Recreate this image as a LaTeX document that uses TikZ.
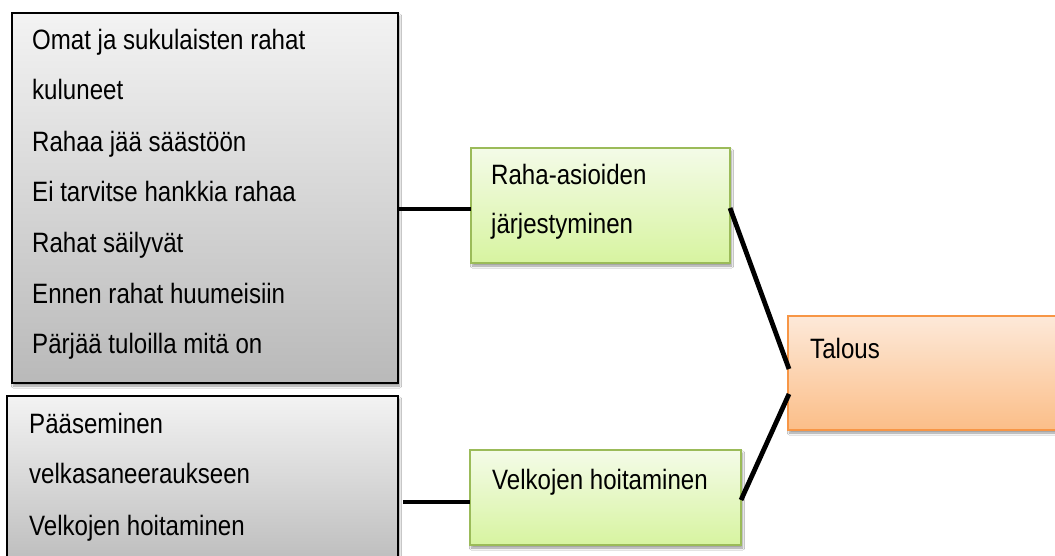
\documentclass[tikz,border=0pt]{standalone}
\usepackage{fontspec}
\setmainfont{Liberation Sans}[FakeStretch=0.86]
\usetikzlibrary{calc,shadows.blur}

\definecolor{grayTop}{HTML}{F3F3F3}
\definecolor{grayBot}{HTML}{B9B9B9}
\definecolor{greenTop}{HTML}{F4FBE8}
\definecolor{greenBot}{HTML}{D7F4A0}
\definecolor{greenEdge}{HTML}{9BBB59}
\definecolor{orangeTop}{HTML}{FDE9D9}
\definecolor{orangeBot}{HTML}{FBBE88}
\definecolor{orangeEdge}{HTML}{F79646}

\tikzset{
  boxbase/.style={rectangle, anchor=north west, inner sep=0pt, outer sep=0pt,
    blur shadow={shadow xshift=1.5pt, shadow yshift=-3pt, shadow blur steps=6, shadow opacity=40}},
  graybox/.style={boxbase, draw=black, line width=1.8pt, top color=grayTop, bottom color=grayBot},
  greenbox/.style={boxbase, draw=greenEdge, line width=1.4pt, top color=greenTop, bottom color=greenBot},
  orangebox/.style={boxbase, draw=orangeEdge, line width=1.6pt, top color=orangeTop, bottom color=orangeBot},
  txt/.style={anchor=base west, inner sep=0pt, font=\fontsize{28}{32}\selectfont, text=black},
  link/.style={draw=black, line width=4.8pt},
}

\begin{document}
\begin{tikzpicture}[x=1pt, y=-1pt]
  \clip (0,0) rectangle (1055,556);
  \fill[white] (0,0) rectangle (1055,556);

  % boxes
  \node[graybox, minimum width=386pt, minimum height=370pt] (b1) at (12,13) {};
  \node[graybox, minimum width=391pt, minimum height=180pt] (b2) at (7,396) {};
  \node[greenbox, minimum width=259pt, minimum height=115pt] (g1) at (471,148) {};
  \node[greenbox, minimum width=271pt, minimum height=95pt] (g2) at (470,450) {};
  \node[orangebox, minimum width=290pt, minimum height=114pt] (o1) at (788,316) {};

  % texts of the first gray box
  \node[txt] (t1) at (32,50)  {Omat ja sukulaisten rahat};
  \node[txt] (t2) at (32,100) {kuluneet};
  \node[txt] (t3) at (32,152) {Rahaa jää säästöön};
  \node[txt] (t4) at (32,202) {Ei tarvitse hankkia rahaa};
  \node[txt] (t5) at (32,252) {Rahat säilyvät};
  \node[txt] (t6) at (32,303) {Ennen rahat huumeisiin};
  \node[txt] (t7) at (32,353) {Pärjää tuloilla mitä on};

  % texts of the second gray box
  \node[txt] (u1) at (29,433) {Pääseminen};
  \node[txt] (u2) at (29,483) {velkasaneeraukseen};
  \node[txt] (u3) at (29,535) {Velkojen hoitaminen};

  % category and main texts
  \node[txt] (g1a) at (491,185) {Raha-asioiden};
  \node[txt] (g1b) at (491,234) {järjestyminen};
  \node[txt] (g2a) at (492,489) {Velkojen hoitaminen};
  \node[txt] (o1a) at (810,358) {Talous};

  % connectors
  \coordinate (c1) at ($(g1.north west)+(0,61)$);
  \draw[link] (b1.east |- c1) -- (c1);
  \coordinate (c2) at ($(g2.north west)+(0,52)$);
  \draw[link] ($(b2.east |- c2)+(5,0)$) -- (c2);
  \draw[link] ($(g1.north east)+(0,60)$) -- ($(o1.north west)+(1,53)$);
  \draw[link] ($(g2.north east)+(0,50)$) -- ($(o1.north west)+(1,78)$);
\end{tikzpicture}
\end{document}
